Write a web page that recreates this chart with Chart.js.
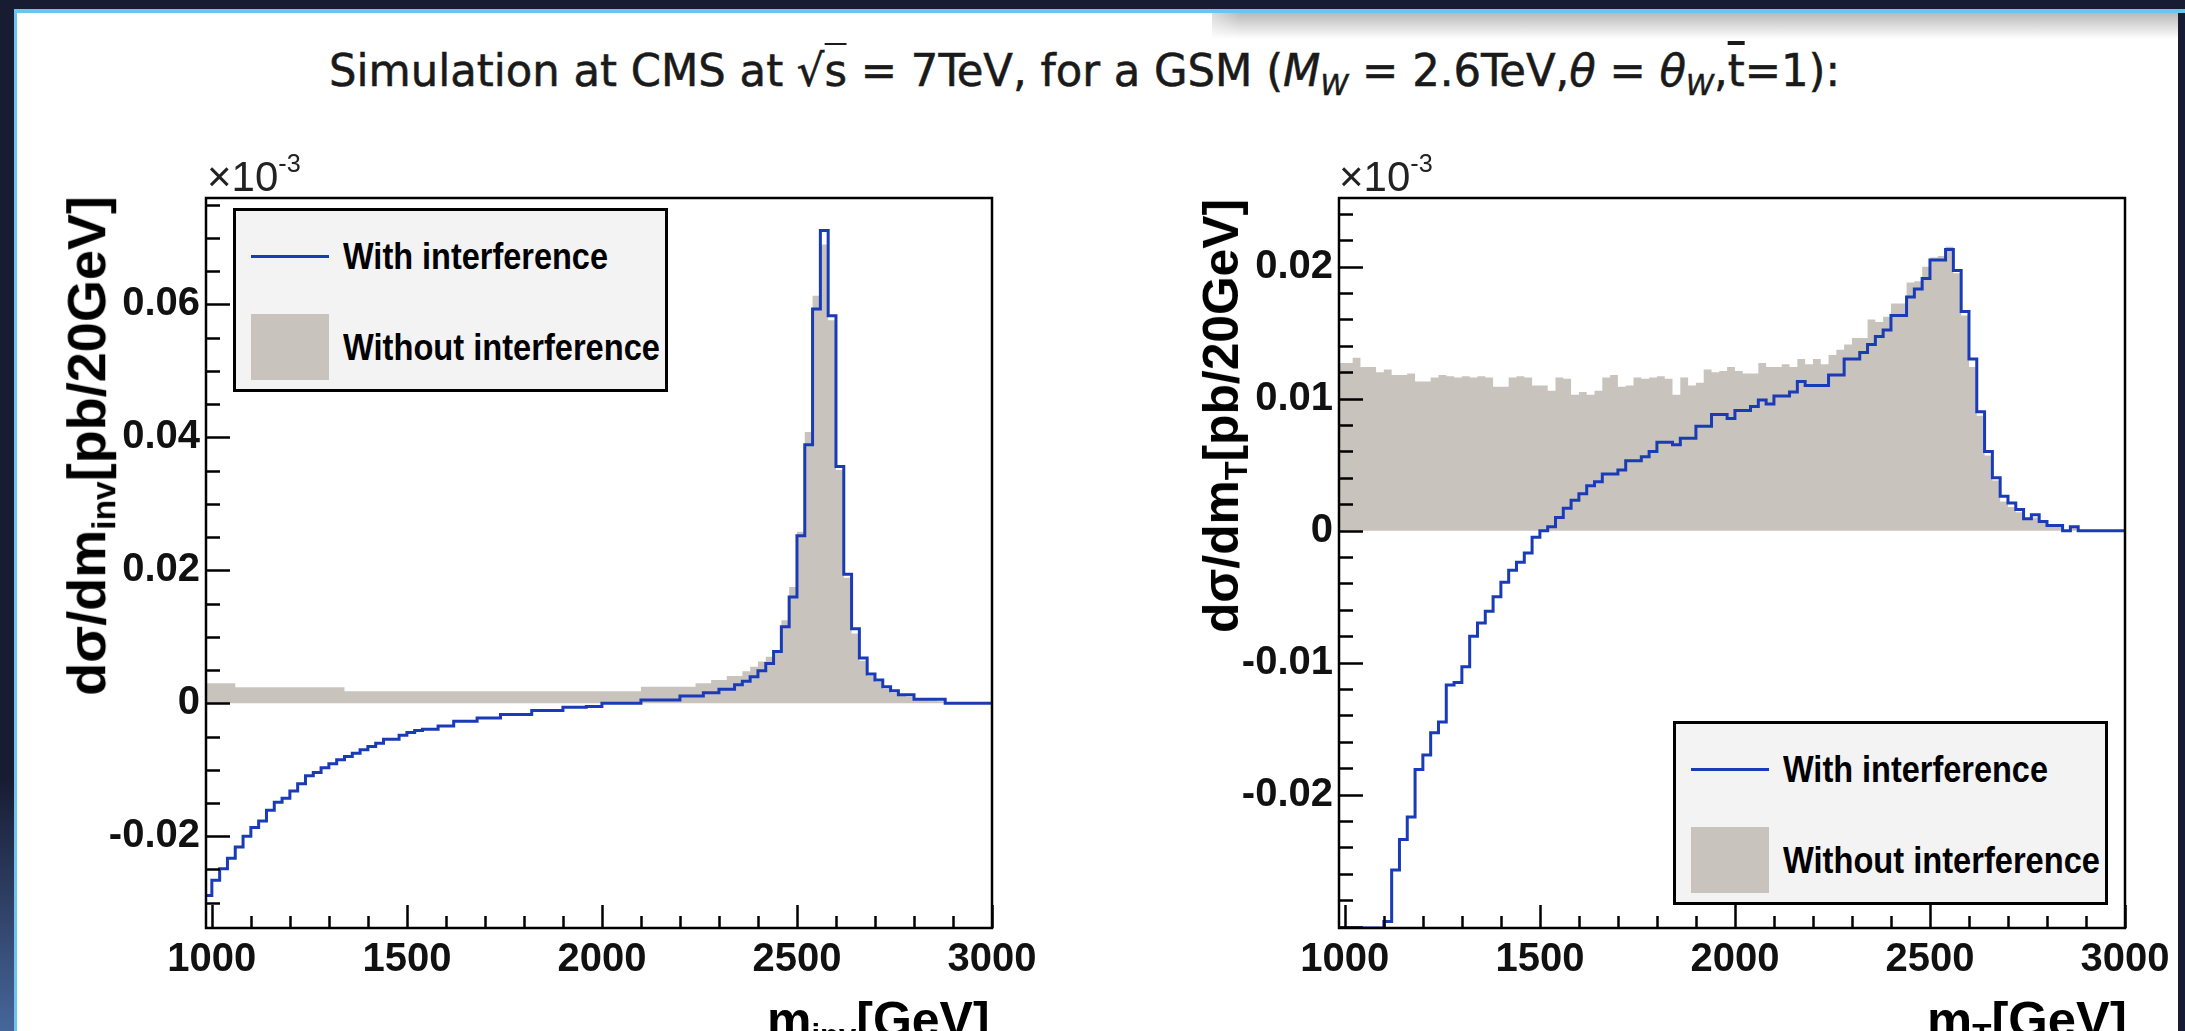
<!DOCTYPE html>
<html>
<head>
<meta charset="utf-8">
<script src="https://cdn.jsdelivr.net/npm/chart.js@4.4.0/dist/chart.umd.min.js"></script>
<style>
  html, body { margin: 0; padding: 0; }
  body { width: 2185px; height: 1031px; overflow: hidden; position: relative; background: #181c33; font-family: "Liberation Sans", Arial, sans-serif; color: #000; }
  .abs { position: absolute; }
  #slide { left: 17px; top: 13px; width: 2161px; height: 1030px; background: #fff; }
  #topline { left: 14px; top: 9px; width: 2171px; height: 4px; background: #6cc4ef; }
  #leftline { left: 14px; top: 9px; width: 3px; height: 1022px; background: #6cc4ef; }
  #glow { left: 0; top: 780px; width: 14px; height: 251px; background: linear-gradient(to bottom, #181c33, #46669a); }
  #shadow { left: 1212px; top: 13px; width: 966px; height: 26px; background: linear-gradient(to bottom, #b9b9b9, #ffffff); }
  #shadowFade { left: 1180px; top: 13px; width: 60px; height: 26px; background: linear-gradient(to right, #ffffff, rgba(255,255,255,0)); }
  #title { left: 329px; top: 49px; font-family: "DejaVu Sans Condensed", "DejaVu Sans", sans-serif; font-size: 44px; line-height: 1; white-space: nowrap; color: #1a1a1a; -webkit-text-stroke: 0.5px #1a1a1a; transform-origin: left top; }
  #title sub { font-size: 0.65em; position: relative; top: 0.3em; vertical-align: baseline; }
  .ov { text-decoration: overline; }
  .sq { border-top: 2px solid #1a1a1a; }
  .x3 { font-size: 42px; line-height: 1; white-space: nowrap; color: #222; }
  .x3 sup { font-size: 0.6em; position: relative; top: -0.75em; vertical-align: baseline; }
  .ytitle { font-weight: bold; font-size: 48px; white-space: nowrap; line-height: 1; transform-origin: 0 0; }
  .xtitle { font-weight: bold; font-size: 48px; white-space: nowrap; line-height: 1; }
  .ytitle sub, .xtitle sub { font-size: 0.62em; vertical-align: -0.3em; }
  .legend { border: 3px solid #000; background: #f3f3f3; box-sizing: border-box; }
  .legend .txt { position: absolute; font-weight: bold; font-size: 36px; line-height: 40px; height: 40px; white-space: nowrap; transform-origin: left center; }
  canvas { position: absolute; }
</style>
</head>
<body>
<div id="slide" class="abs"></div>
<div id="topline" class="abs"></div>
<div id="leftline" class="abs"></div>
<div id="glow" class="abs"></div>
<div id="shadow" class="abs"></div>
<div id="shadowFade" class="abs"></div>

<div id="title" class="abs">Simulation at CMS at √<span class="sq">s</span> = 7TeV, for a GSM (<i>M</i><sub><i>W</i></sub> = 2.6TeV,<i>θ</i> = <i>θ</i><sub><i>W</i></sub>,<span class="ov">t</span>=1):</div>

<canvas id="invChart" width="1100" height="881" style="left:0;top:150px"></canvas>
<canvas id="trChart" width="1085" height="881" style="left:1100px;top:150px"></canvas>

<div class="abs x3" style="left:207px;top:156px">×10<sup>-3</sup></div>
<div class="abs x3" style="left:1339px;top:156px">×10<sup>-3</sup></div>

<div id="yTitleInv" class="abs ytitle">dσ/dm<sub>inv</sub>[pb/20GeV]</div>
<div id="yTitleTr" class="abs ytitle">dσ/dm<sub>T</sub>[pb/20GeV]</div>
<div id="xTitleInv" class="abs xtitle">m<sub>inv</sub>[GeV]</div>
<div id="xTitleTr" class="abs xtitle">m<sub>T</sub>[GeV]</div>

<script>
// bins are 20 GeV wide, lower edges from 980 GeV
const BIN_LO = 980, BIN_W = 20, N_BINS = 101, X_MIN = 985, X_MAX = 3000;
const massBins = Array.from({ length: N_BINS }, (_, i) => BIN_LO + i * BIN_W);
const xTicks = [1000, 1500, 2000, 2500, 3000];

const seriesNames = ['With interference', 'Without interference'];

// left panel: invariant mass
const invWith = [
  -0.0289, -0.0266, -0.0249, -0.0233, -0.0216, -0.0200, -0.0187, -0.0177, -0.0161, -0.0149,
  -0.0143, -0.0132, -0.0121, -0.0109, -0.0104, -0.0097, -0.0091, -0.0085, -0.0080, -0.0075,
  -0.0070, -0.0065, -0.0060, -0.0054, -0.0054, -0.0048, -0.0044, -0.0041, -0.0039, -0.0039,
  -0.0034, -0.0034, -0.0027, -0.0027, -0.0027, -0.0022, -0.0022, -0.0022, -0.0017, -0.0017,
  -0.0017, -0.0017, -0.0011, -0.0011, -0.0011, -0.0011, -0.0006, -0.0006, -0.0006, -0.0005,
  -0.0005, 0.0000, 0.0000, 0.0000, 0.0000, 0.0000, 0.0005, 0.0005, 0.0005, 0.0005,
  0.0005, 0.0011, 0.0011, 0.0011, 0.0016, 0.0016, 0.0021, 0.0021, 0.0028, 0.0033,
  0.0040, 0.0049, 0.0060, 0.0078, 0.0115, 0.0160, 0.0252, 0.0389, 0.0593, 0.0711,
  0.0583, 0.0356, 0.0194, 0.0112, 0.0068, 0.0044, 0.0035, 0.0025, 0.0019, 0.0013,
  0.0013, 0.0006, 0.0006, 0.0006, 0.0006, 0, 0, 0, 0, 0,
  0
];
const invWithout = [
  0.0030, 0.0030, 0.0030, 0.0030, 0.0024, 0.0024, 0.0024, 0.0024, 0.0024, 0.0024,
  0.0024, 0.0024, 0.0024, 0.0024, 0.0024, 0.0024, 0.0024, 0.0024, 0.0018, 0.0018,
  0.0018, 0.0018, 0.0018, 0.0018, 0.0018, 0.0018, 0.0018, 0.0018, 0.0018, 0.0018,
  0.0018, 0.0018, 0.0018, 0.0018, 0.0018, 0.0018, 0.0018, 0.0018, 0.0018, 0.0018,
  0.0018, 0.0018, 0.0018, 0.0018, 0.0018, 0.0018, 0.0018, 0.0018, 0.0018, 0.0018,
  0.0018, 0.0018, 0.0018, 0.0018, 0.0018, 0.0018, 0.0025, 0.0025, 0.0025, 0.0025,
  0.0025, 0.0025, 0.0025, 0.0030, 0.0030, 0.0035, 0.0035, 0.0041, 0.0041, 0.0048,
  0.0055, 0.0063, 0.0070, 0.0080, 0.0125, 0.0175, 0.0258, 0.0408, 0.0613, 0.0690,
  0.0576, 0.0351, 0.0189, 0.0105, 0.0064, 0.0041, 0.0032, 0.0022, 0.0016, 0.0011,
  0.0010, 0.0005, 0.0005, 0.0004, 0.0003, 0.0002, 0, 0, 0, 0,
  0
];
const invYTicks = [-0.02, 0, 0.02, 0.04, 0.06];

// right panel: transverse mass
const trWith = [
  -0.0301, -0.0301, -0.0301, -0.0301, -0.0301, -0.0301, -0.0296, -0.0257, -0.0234, -0.0217,
  -0.0181, -0.0170, -0.0153, -0.0145, -0.0117, -0.0115, -0.0103, -0.0080, -0.0070, -0.0061,
  -0.0050, -0.0039, -0.0030, -0.0024, -0.0017, -0.0005, 0.0000, 0.0003, 0.0010, 0.0017,
  0.0023, 0.0028, 0.0034, 0.0037, 0.0043, 0.0043, 0.0046, 0.0053, 0.0053, 0.0056,
  0.0060, 0.0067, 0.0067, 0.0065, 0.0070, 0.0070, 0.0079, 0.0079, 0.0088, 0.0088,
  0.0085, 0.0091, 0.0091, 0.0094, 0.0099, 0.0096, 0.0102, 0.0102, 0.0105, 0.0113,
  0.0110, 0.0110, 0.0110, 0.0118, 0.0118, 0.0130, 0.0130, 0.0135, 0.0141, 0.0147,
  0.0152, 0.0163, 0.0163, 0.0177, 0.0183, 0.0191, 0.0205, 0.0205, 0.0213, 0.0197,
  0.0166, 0.0130, 0.0090, 0.0060, 0.0040, 0.0026, 0.0021, 0.0016, 0.0009, 0.0012,
  0.0007, 0.0004, 0.0004, 0.0000, 0.0003, 0, 0, 0, 0, 0,
  0
];
const trWithout = [
  0.0127, 0.0127, 0.0131, 0.0124, 0.0124, 0.0120, 0.0122, 0.0118, 0.0118, 0.0119,
  0.0113, 0.0113, 0.0116, 0.0118, 0.0117, 0.0116, 0.0117, 0.0116, 0.0117, 0.0116,
  0.0109, 0.0109, 0.0116, 0.0117, 0.0116, 0.0110, 0.0110, 0.0106, 0.0116, 0.0115,
  0.0103, 0.0105, 0.0103, 0.0106, 0.0116, 0.0118, 0.0109, 0.0110, 0.0116, 0.0115,
  0.0116, 0.0117, 0.0115, 0.0103, 0.0116, 0.0110, 0.0112, 0.0122, 0.0120, 0.0121,
  0.0124, 0.0121, 0.0119, 0.0119, 0.0127, 0.0124, 0.0124, 0.0126, 0.0124, 0.0130,
  0.0126, 0.0130, 0.0126, 0.0133, 0.0137, 0.0141, 0.0146, 0.0146, 0.0160, 0.0158,
  0.0162, 0.0172, 0.0172, 0.0188, 0.0189, 0.0200, 0.0207, 0.0208, 0.0215, 0.0195,
  0.0163, 0.0124, 0.0087, 0.0057, 0.0038, 0.0022, 0.0018, 0.0014, 0.0008, 0.0010,
  0.0006, 0.0003, 0.0003, 0.0000, 0.0002, 0, 0, 0, 0, 0,
  0
];
const trYTicks = [-0.02, -0.01, 0, 0.01, 0.02];

const BLUE = '#1a3bb8';
const GRAY = '#c9c3bd';

// step points: one per lower bin edge plus the closing edge
function steps(vals) {
  const pts = massBins.map((x, i) => ({ x: x, y: vals[i] }));
  pts.push({ x: massBins[massBins.length - 1] + BIN_W, y: vals[vals.length - 1] });
  return pts;
}

// ROOT-like frame with inward tick marks
const rootFrame = {
  id: 'rootFrame',
  afterDatasetsDraw(chart, args, o) {
    const { ctx, chartArea: a, scales: { x, y } } = chart;
    ctx.save();
    ctx.strokeStyle = '#000';
    ctx.lineWidth = 2.5;
    ctx.beginPath();
    for (let k = Math.ceil(y.min / o.yMinor); k * o.yMinor <= y.max + 1e-9; k++) {
      const v = k * o.yMinor;
      const major = Math.abs(v / o.yMajor - Math.round(v / o.yMajor)) < 1e-6;
      const py = Math.round(y.getPixelForValue(v)) + 0.5;
      ctx.moveTo(a.left, py);
      ctx.lineTo(a.left + (major ? 24 : 14), py);
    }
    for (let v = 1000; v <= X_MAX; v += 100) {
      const major = v % 500 === 0;
      const px = Math.round(x.getPixelForValue(v)) + 0.5;
      ctx.moveTo(px, a.bottom);
      ctx.lineTo(px, a.bottom - (major ? 23 : 12));
    }
    ctx.stroke();
    ctx.strokeRect(a.left, a.top, a.right - a.left, a.bottom - a.top);
    ctx.restore();
  }
};

function makeChart(id, withVals, withoutVals, yMin, yMax, yTicks, yMinor, yMajor, yAxisW, padRight) {
  const tickFont = { family: 'Liberation Sans', size: 40, weight: 'bold' };
  return new Chart(document.getElementById(id), {
    type: 'line',
    data: {
      datasets: [
        { label: seriesNames[0], data: steps(withVals), stepped: 'before', borderColor: BLUE, borderWidth: 3,
          pointRadius: 0, fill: false, order: 1 },
        { label: seriesNames[1], data: steps(withoutVals), stepped: 'before', borderColor: 'rgba(0,0,0,0)',
          borderWidth: 0, backgroundColor: GRAY, fill: 'origin', pointRadius: 0, order: 2 }
      ]
    },
    options: {
      responsive: false,
      animation: false,
      events: [],
      layout: { padding: { top: 48, right: padRight, left: 0, bottom: 0 } },
      plugins: {
        legend: { display: false },
        tooltip: { enabled: false },
        rootFrame: { yMinor: yMinor, yMajor: yMajor }
      },
      scales: {
        x: {
          type: 'linear', min: X_MIN, max: X_MAX,
          afterBuildTicks: s => { s.ticks = xTicks.map(v => ({ value: v })); },
          afterFit: s => { s.height = 103; },
          grid: { display: false, drawTicks: false },
          border: { display: false },
          ticks: { font: tickFont, color: '#111', padding: 8, maxRotation: 0, autoSkip: false, callback: v => String(v) }
        },
        y: {
          type: 'linear', min: yMin, max: yMax,
          afterBuildTicks: s => { s.ticks = yTicks.map(v => ({ value: v })); },
          afterFit: s => { s.width = yAxisW; },
          grid: { display: false, drawTicks: false },
          border: { display: false },
          ticks: { font: tickFont, color: '#111', padding: 6, autoSkip: false, callback: v => String(v) }
        }
      }
    },
    plugins: [rootFrame]
  });
}

makeChart('invChart', invWith, invWithout, -0.0338, 0.0760, invYTicks, 0.005, 0.02, 206, 108);
makeChart('trChart', trWith, trWithout, -0.0301, 0.0252, trYTicks, 0.002, 0.01, 239, 60);

function fitX(el, w) {
  const r = el.getBoundingClientRect().width;
  el.style.transform = 'scaleX(' + (w / r) + ')';
}
function fitFont(el, w) {
  const fs = parseFloat(getComputedStyle(el).fontSize);
  el.style.fontSize = (fs * w / el.offsetWidth) + 'px';
}

// legends
function addLegend(left, top) {
  const box = document.createElement('div');
  box.className = 'abs legend';
  Object.assign(box.style, { left: left + 'px', top: top + 'px', width: '435px', height: '184px' });
  box.innerHTML =
    '<div class="abs" style="left:15px;top:44px;width:78px;height:3px;background:' + BLUE + '"></div>' +
    '<div class="abs" style="left:15px;top:103px;width:78px;height:66px;background:' + GRAY + '"></div>' +
    '<div class="abs txt" style="left:107px;top:26px">' + seriesNames[0] + '</div>' +
    '<div class="abs txt" style="left:107px;top:117px">' + seriesNames[1] + '</div>';
  document.body.appendChild(box);
  const t = box.querySelectorAll('.txt');
  fitX(t[0], 265);
  fitX(t[1], 317);
}
addLegend(233, 208);
addLegend(1673, 721);

fitX(document.getElementById('title'), 1511);

// rotated y titles: right end of text at the frame top
function placeYTitle(id, cx, yTop, len) {
  const el = document.getElementById(id);
  fitFont(el, len);
  Object.assign(el.style, { left: cx + 'px', top: yTop + 'px', transform: 'rotate(-90deg) translate(-100%, -50%)' });
}
placeYTitle('yTitleInv', 90, 196, 500);
placeYTitle('yTitleTr', 1225, 199, 434);

function placeXTitle(id, right, top, len) {
  const el = document.getElementById(id);
  fitFont(el, len);
  Object.assign(el.style, { left: (right - el.offsetWidth) + 'px', top: top + 'px' });
}
placeXTitle('xTitleInv', 990, 995, 223);
placeXTitle('xTitleTr', 2127, 995, 200);
</script>
</body>
</html>
